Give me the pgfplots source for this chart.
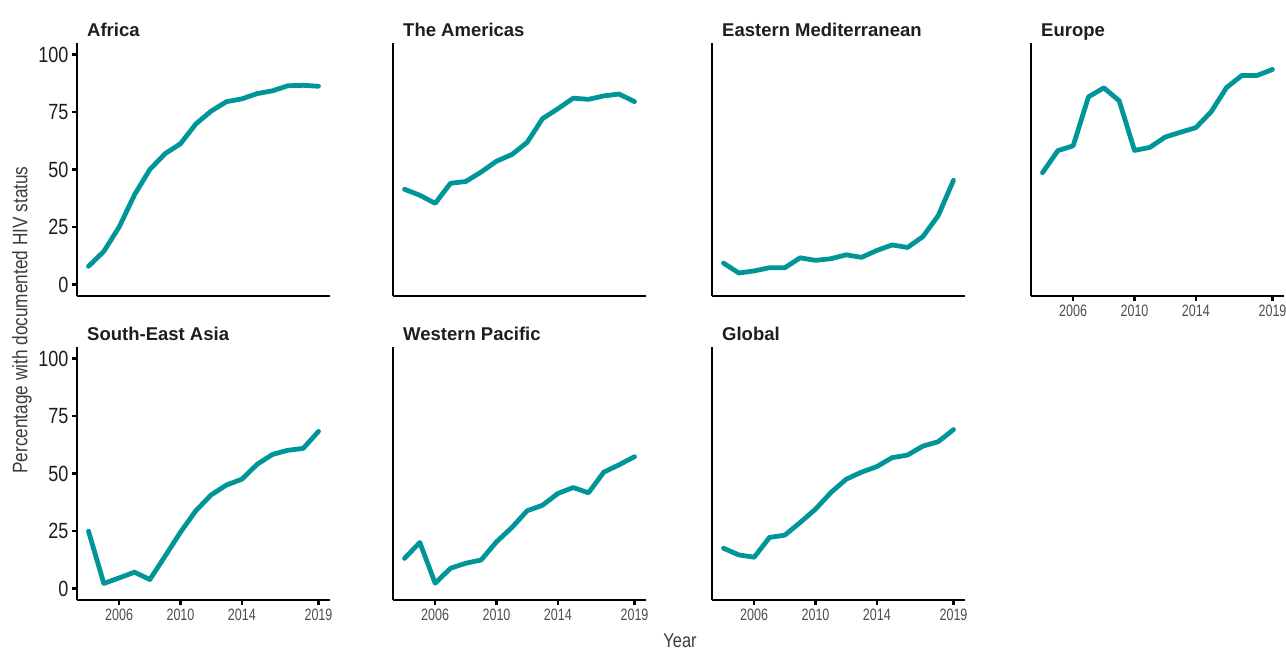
\documentclass[border=0pt]{standalone}
\usepackage{pgfplots}
\pgfplotsset{compat=1.18}
\usepackage{fontspec}
\setmainfont{Liberation Sans}
\newfontfamily\cond[FakeStretch=0.82]{Liberation Sans}
\newfontfamily\condx[FakeStretch=0.76]{Liberation Sans}

\definecolor{lineteal}{RGB}{0,150,153}
\definecolor{tdark}{RGB}{30,30,30}
\definecolor{xgray}{RGB}{77,77,77}
\definecolor{lgray}{RGB}{60,60,60}

\pgfplotsset{
  panel/.style={
    scale only axis, width=253pt, height=253pt,
    xmin=2003.25, xmax=2019.75, ymin=-5, ymax=105,
    axis lines*=left,
    axis line style={-, line width=2.6pt, black},
    tick style={line width=2.2pt, black},
    major tick length=5pt, tick align=outside,
    xtick=\empty, ytick=\empty, clip=false,
    title style={anchor=base west, at={(0,1)}, xshift=10pt, yshift=0.5pt,
      inner sep=0pt, text=tdark, font=\bfseries\fontsize{18.5}{20}\selectfont},
  },
  xt/.style={xtick={2006,2010,2014,2019}, xticklabels={2006,2010,2014,2019},
    xticklabel style={font=\condx\fontsize{16.5}{18}\selectfont, text=xgray}},
  yt/.style={ytick={0,25,50,75,100}, yticklabels={0,25,50,75,100},
    yticklabel style={font=\cond\fontsize{22}{24}\selectfont, text=tdark}},
  ln/.style={line width=4.8pt, color=lineteal, line cap=round, line join=round, no marks},
}

\begin{document}
\begin{tikzpicture}
\useasboundingbox (0,0) rectangle (1286pt,651pt);

% row 1
\begin{axis}[panel, yt, at={(77pt,355pt)}, anchor=south west, title={Africa}]
\addplot[ln] coordinates {(2004,7.9) (2005,14.4) (2006,25) (2007,39) (2008,50) (2009,56.9) (2010,61.2) (2011,69.8) (2012,75.4) (2013,79.5) (2014,80.7) (2015,83) (2016,84.2) (2017,86.4) (2018,86.6) (2019,86.2)};
\end{axis}

\begin{axis}[panel, at={(393pt,355pt)}, anchor=south west, title={The Americas}]
\addplot[ln] coordinates {(2004,41.4) (2005,38.8) (2006,35.3) (2007,44) (2008,44.8) (2009,48.9) (2010,53.6) (2011,56.5) (2012,61.8) (2013,72.1) (2014,76.4) (2015,81) (2016,80.5) (2017,82) (2018,82.8) (2019,79.5)};
\end{axis}

\begin{axis}[panel, at={(712pt,355pt)}, anchor=south west, title={Eastern Mediterranean}]
\addplot[ln] coordinates {(2004,9.3) (2005,5) (2006,5.9) (2007,7.3) (2008,7.3) (2009,11.6) (2010,10.5) (2011,11.2) (2012,12.9) (2013,11.8) (2014,14.8) (2015,17.2) (2016,16.1) (2017,20.8) (2018,29.9) (2019,45.3)};
\end{axis}

\begin{axis}[panel, xt, at={(1031pt,355pt)}, anchor=south west, title={Europe}]
\addplot[ln] coordinates {(2004,48.6) (2005,58.2) (2006,60.3) (2007,81.6) (2008,85.5) (2009,79.9) (2010,58.3) (2011,59.6) (2012,64.1) (2013,66.2) (2014,68.2) (2015,75.1) (2016,85.6) (2017,90.9) (2018,90.9) (2019,93.5)};
\end{axis}

% row 2
\begin{axis}[panel, xt, yt, at={(77pt,51pt)}, anchor=south west, title={South-East Asia}]
\addplot[ln] coordinates {(2004,24.9) (2005,2.2) (2006,4.6) (2007,7.1) (2008,3.9) (2009,14.1) (2010,24.5) (2011,33.8) (2012,40.7) (2013,45) (2014,47.5) (2015,54) (2016,58.3) (2017,60.1) (2018,60.9) (2019,68.3)};
\end{axis}

\begin{axis}[panel, xt, at={(393pt,51pt)}, anchor=south west, title={Western Pacific}]
\addplot[ln] coordinates {(2004,13.1) (2005,20) (2006,2.3) (2007,8.8) (2008,11) (2009,12.4) (2010,20.3) (2011,26.5) (2012,33.8) (2013,36.2) (2014,41.3) (2015,43.9) (2016,41.6) (2017,50.6) (2018,53.8) (2019,57.3)};
\end{axis}

\begin{axis}[panel, xt, at={(712pt,51pt)}, anchor=south west, title={Global}]
\addplot[ln] coordinates {(2004,17.5) (2005,14.6) (2006,13.6) (2007,22.2) (2008,23.2) (2009,28.7) (2010,34.5) (2011,41.7) (2012,47.5) (2013,50.6) (2014,53) (2015,56.9) (2016,58) (2017,61.9) (2018,63.8) (2019,69.1)};
\end{axis}

\node[rotate=90, text=lgray, font=\cond\fontsize{21}{23}\selectfont] at (22pt,331pt) {Percentage with documented HIV status};
\node[text=lgray, font=\cond\fontsize{20}{22}\selectfont] at (680pt,10pt) {Year};
\end{tikzpicture}
\end{document}
